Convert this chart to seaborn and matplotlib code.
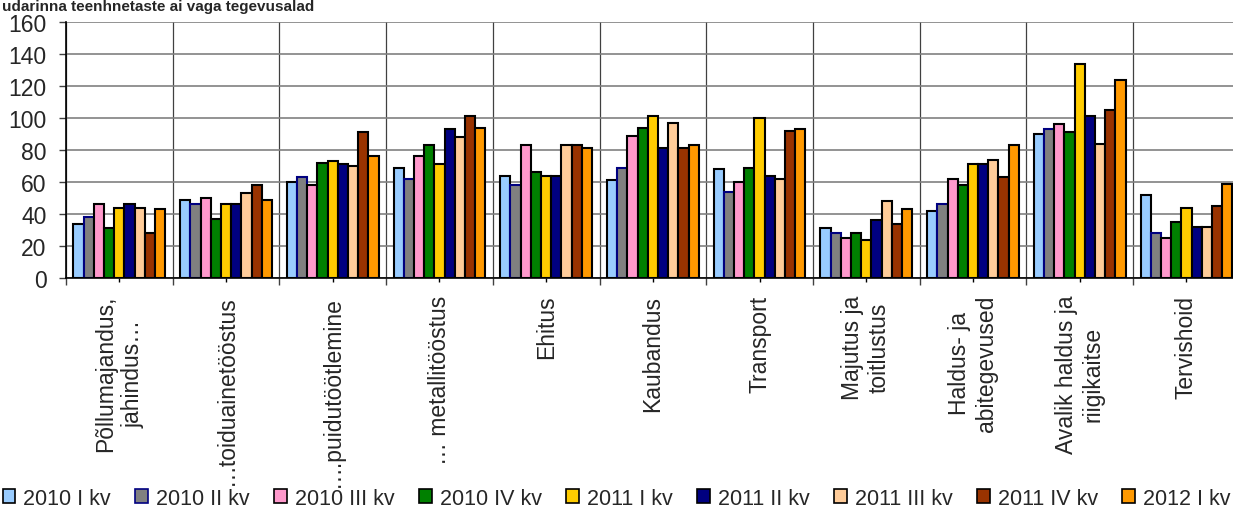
import numpy as np
import pandas as pd
import matplotlib
matplotlib.use("Agg")
import matplotlib.pyplot as plt
import seaborn as sns

# categories (x axis) and quarters (hue)
categories = [
    "Põllumajandus,\njahindus…",
    "…toiduainetööstus",
    "….puidutöötlemine",
    "… metallitööstus",
    "Ehitus",
    "Kaubandus",
    "Transport",
    "Majutus ja\ntoitlustus",
    "Haldus- ja\nabitegevused",
    "Avalik haldus ja\nriigikaitse",
    "Tervishoid",
]
quarters = ["2010 I kv", "2010 II kv", "2010 III kv", "2010 IV kv",
            "2011 I kv", "2011 II kv", "2011 III kv", "2011 IV kv", "2012 I kv"]

q2010_1 = [34, 49, 60, 69, 64, 61, 68, 31, 42, 90, 52]
q2010_2 = [38, 46, 63, 62, 58, 69, 54, 28, 46, 93, 28]
q2010_3 = [46, 50, 58, 76, 83, 89, 60, 25, 62, 96, 25]
q2010_4 = [31, 37, 72, 83, 66, 94, 69, 28, 58, 91, 35]
q2011_1 = [44, 46, 73, 71, 64, 101, 100, 24, 71, 134, 44]
q2011_2 = [46, 46, 71, 93, 64, 81, 64, 36, 71, 101, 32]
q2011_3 = [44, 53, 70, 88, 83, 97, 62, 48, 74, 84, 32]
q2011_4 = [28, 58, 91, 101, 83, 81, 92, 34, 63, 105, 45]
q2012_1 = [43, 49, 76, 94, 81, 83, 93, 43, 83, 124, 59]

series = [q2010_1, q2010_2, q2010_3, q2010_4, q2011_1,
          q2011_2, q2011_3, q2011_4, q2012_1]
colors = ["#99CCFF", "#808080", "#FF99CC", "#008000", "#FFCC00",
          "#000080", "#FFCC99", "#993300", "#FF9900"]

title = "udarinna teenhnetaste ai vaga tegevusalad"

# long form table for seaborn
rows = []
for q, vals in zip(quarters, series):
    for c, v in zip(categories, vals):
        rows.append({"cat": c, "quarter": q, "value": v})
df = pd.DataFrame(rows)

sns.set_theme(style="white")
plt.rcParams["font.family"] = ["Liberation Sans", "DejaVu Sans"]
fs = 16.5

fig = plt.figure(figsize=(12.33, 5.10), dpi=100)
ax = fig.add_axes([0.0535, 0.453, 0.952, 0.502])

sns.barplot(data=df, x="cat", y="value", hue="quarter", order=categories,
            hue_order=quarters, palette=colors, saturation=1, width=0.86,
            errorbar=None, edgecolor="black", linewidth=1.5, ax=ax)

# second series has a navy outline in the original
for patch in ax.containers[1]:
    patch.set_edgecolor("#000080")

ax.set_ylim(0, 160)
ax.set_xlim(-0.5, len(categories) - 0.5)
ax.set_yticks(np.arange(0, 161, 20))
ax.set_xlabel("")
ax.set_ylabel("")

ax.set_xticks(np.arange(-0.5, len(categories), 1.0), minor=True)
ax.grid(axis="y", which="major", color="#808080", linewidth=1.2)
ax.grid(axis="x", which="minor", color="#404040", linewidth=0.9)
ax.grid(axis="x", which="major", visible=False)
ax.set_axisbelow(True)

ax.set_xticklabels(categories, rotation=90, ha="center", va="top",
                   multialignment="center", fontsize=fs)
ax.tick_params(axis="x", which="major", length=3, width=1, color="black",
               pad=9, bottom=True)
ax.tick_params(axis="x", which="minor", length=5, width=1, color="#404040",
               bottom=True)
ax.tick_params(axis="y", length=5, width=1, color="#404040", left=True,
               pad=9, labelsize=fs)

for side in ["top", "right"]:
    ax.spines[side].set_visible(False)
ax.spines["left"].set_color("black")
ax.spines["left"].set_linewidth(1.2)
ax.spines["bottom"].set_color("black")
ax.spines["bottom"].set_linewidth(1.2)

handles, labels = ax.get_legend_handles_labels()
ax.get_legend().remove()
for h in handles:
    h.set_linewidth(1.2)
handles[1].set_edgecolor("#000080")
fig.legend(handles, labels, loc="lower center", bbox_to_anchor=(0.5, -0.012),
           ncol=9, frameon=False, fontsize=15.5, handlelength=0.6,
           handleheight=0.6, handletextpad=0.35, columnspacing=1.15,
           borderaxespad=0.0, borderpad=0.3)

fig.text(0.002, 0.978, title, fontsize=11, fontweight="bold",
         ha="left", va="baseline")

fig.savefig("out.png", dpi=100)
